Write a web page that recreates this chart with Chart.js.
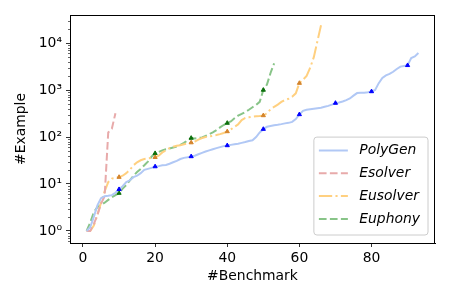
<!DOCTYPE html>
<html>
<head>
<meta charset="utf-8">
<script src="https://cdn.jsdelivr.net/npm/chart.js@4/dist/chart.umd.min.js"></script>
<style>
  body { margin: 0; background: #fff; }
  #wrap { width: 450px; height: 300px; }
</style>
</head>
<body>
<div id="wrap"><canvas id="myChart" width="450" height="300"></canvas></div>
<script>
// number of examples per benchmark, sorted (x = 1..n)
const polygen = [
  1, 1.2, 2, 3.5, 5, 5.5, 5.6, 5.8, 6.5, 7.7,
  9, 11, 12, 14, 15, 17, 20, 21, 22, 23.5,
  24, 25, 25.5, 27, 29, 31, 34, 36, 37, 38.5,
  40, 43, 46, 49, 52, 55, 58, 61, 64, 66,
  68, 70, 72, 75, 78, 82, 85, 100, 125, 147,
  165, 172, 178, 182, 188, 195, 200, 210, 240, 302,
  360, 380, 390, 400, 410, 420, 440, 460, 490, 527,
  545, 570, 610, 660, 760, 860, 870, 880, 900, 930,
  1000, 1400, 1800, 2050, 2200, 2450, 2800, 3150, 3250, 3350,
  4800, 5200, 6150
];
const esolver = [1, 1, 1.4, 2.2, 3.8, 5.5, 125, 150, 320];
const eusolver = [
  1, 1, 1.3, 2.2, 4, 7, 11, 13, 13.5, 14,
  15, 17, 20, 25, 29, 32, 34, 35, 36, 37,
  40, 47, 52, 58, 62, 65, 67, 70, 73, 76,
  80, 88, 95, 100, 103, 106, 110, 115, 122, 131,
  145, 165, 185, 230, 255, 262, 270, 275, 280, 287,
  320, 390, 440, 490, 560, 610, 650, 720, 850, 1400,
  1650, 2000, 3000, 5000, 11000, 24000
];
const euphony = [
  1, 1.5, 2.5, 3.2, 3.6, 4, 4.6, 5.2, 5.8, 6.4,
  8, 9.5, 12, 15, 18, 21, 25, 30, 38, 45,
  48, 52, 55, 57, 60, 63, 68, 75, 85, 95,
  93, 95, 98, 105, 115, 125, 140, 160, 180, 198,
  215, 250, 285, 310, 340, 380, 430, 480, 560, 1000,
  1300, 2300, 3700
];
const xTicks = [0, 20, 40, 60, 80];
const yTicks = [1, 10, 100, 1000, 10000];
const yTickLabels = ['10⁰', '10¹', '10²', '10³', '10⁴'];

const FONT = 'DejaVu Sans';
const FS = 13.9;

function toPoints(arr) {
  return arr.map((v, i) => ({ x: i + 1, y: v }));
}

// triangle marker on every 10th benchmark
function markerRadius(ctx) {
  return (ctx.dataIndex + 1) % 10 === 0 ? 2.4 : 0;
}

function series(label, arr, lineColor, markColor, dash) {
  return {
    label: label,
    data: toPoints(arr),
    borderColor: lineColor,
    backgroundColor: markColor,
    borderWidth: 2,
    borderDash: dash,
    pointStyle: 'triangle',
    pointRadius: markColor ? markerRadius : 0,
    pointBackgroundColor: markColor,
    pointBorderColor: markColor,
    pointBorderWidth: 1,
    tension: 0,
    fill: false
  };
}

// frame, minor y ticks and legend box
const extras = {
  id: 'extras',
  afterDraw(chart) {
    const c = chart.ctx;
    const a = chart.chartArea;
    const ys = chart.scales.y;
    c.save();
    c.strokeStyle = '#000';
    c.lineWidth = 1;
    c.strokeRect(a.left + 0.5, a.top + 0.5, a.right - a.left - 1, a.bottom - a.top);

    c.lineWidth = 0.6;
    for (let d = -1; d <= 4; d++) {
      for (let m = 2; m <= 9; m++) {
        const v = m * Math.pow(10, d);
        if (v < ys.min || v > ys.max) continue;
        const py = Math.round(ys.getPixelForValue(v)) + 0.5;
        c.beginPath();
        c.moveTo(a.left - 2, py);
        c.lineTo(a.left, py);
        c.stroke();
      }
    }

    // legend
    const ds = chart.data.datasets;
    c.font = 'italic ' + FS + 'px "' + FONT + '"';
    let tw = 0;
    ds.forEach(d => { tw = Math.max(tw, c.measureText(d.label).width); });
    const rowH = 22.8;
    const bw = 5 + 29 + 11.4 + tw + 8;
    const bh = rowH * (ds.length - 1) + 29.5;
    const bx = a.right - 7 - bw;
    const by = a.bottom - 8 - bh;
    c.beginPath();
    c.roundRect(bx, by, bw, bh, 3);
    c.fillStyle = 'rgba(255,255,255,0.8)';
    c.fill();
    c.strokeStyle = '#cccccc';
    c.lineWidth = 1;
    c.stroke();
    ds.forEach((d, i) => {
      const cy = by + 13.4 + i * rowH;
      c.strokeStyle = d.borderColor;
      c.lineWidth = 2;
      c.setLineDash(d.borderDash || []);
      c.beginPath();
      c.moveTo(bx + 5, cy);
      c.lineTo(bx + 34, cy);
      c.stroke();
      c.setLineDash([]);
      c.fillStyle = '#000';
      c.textBaseline = 'middle';
      c.textAlign = 'left';
      c.fillText(d.label, bx + 45.4, cy);
    });
    c.restore();
  }
};

const ctx = document.getElementById('myChart').getContext('2d');
new Chart(ctx, {
  type: 'line',
  data: {
    datasets: [
      series('PolyGen', polygen, '#b1c8f5', '#0000ff', []),
      series('Esolver', esolver, '#e8aaaa', null, [7.7, 3.3]),
      series('Eusolver', eusolver, '#ffd080', '#d4842c', [13.3, 3.3, 2.1, 3.3]),
      series('Euphony', euphony, '#88c488', '#0a6e0a', [7.7, 3.3])
    ]
  },
  options: {
    responsive: false,
    animation: false,
    layout: { padding: { left: 0, right: 15, top: 15, bottom: 0 } },
    plugins: {
      legend: { display: false },
      tooltip: { enabled: false }
    },
    scales: {
      x: {
        type: 'linear',
        min: -3.6,
        max: 97.6,
        afterBuildTicks: s => { s.ticks = xTicks.map(v => ({ value: v })); },
        afterFit: s => { s.height = 57; },
        grid: { drawOnChartArea: false, drawTicks: true, tickLength: 4, color: '#000', tickWidth: 0.8 },
        border: { display: true, color: '#000', width: 1 },
        ticks: { color: '#000', padding: 3, font: { family: FONT, size: FS }, maxRotation: 0 },
        title: { display: true, text: '#Benchmark', color: '#000', font: { family: FONT, size: FS }, padding: { top: 0, bottom: 15.5 } }
      },
      y: {
        type: 'logarithmic',
        min: 0.555,
        max: 39500,
        afterBuildTicks: s => { s.ticks = yTicks.map(v => ({ value: v, major: true })); },
        afterFit: s => { s.width = 70; },
        grid: { drawOnChartArea: false, drawTicks: true, tickLength: 4, color: '#000', tickWidth: 0.8 },
        border: { display: true, color: '#000', width: 1 },
        ticks: {
          color: '#000',
          padding: 4,
          font: { family: FONT, size: FS },
          callback: v => yTickLabels[yTicks.indexOf(v)]
        },
        title: { display: true, text: '#Example', color: '#000', font: { family: FONT, size: FS }, padding: { top: 13.4, bottom: 0 } }
      }
    }
  },
  plugins: [extras]
});
</script>
</body>
</html>
